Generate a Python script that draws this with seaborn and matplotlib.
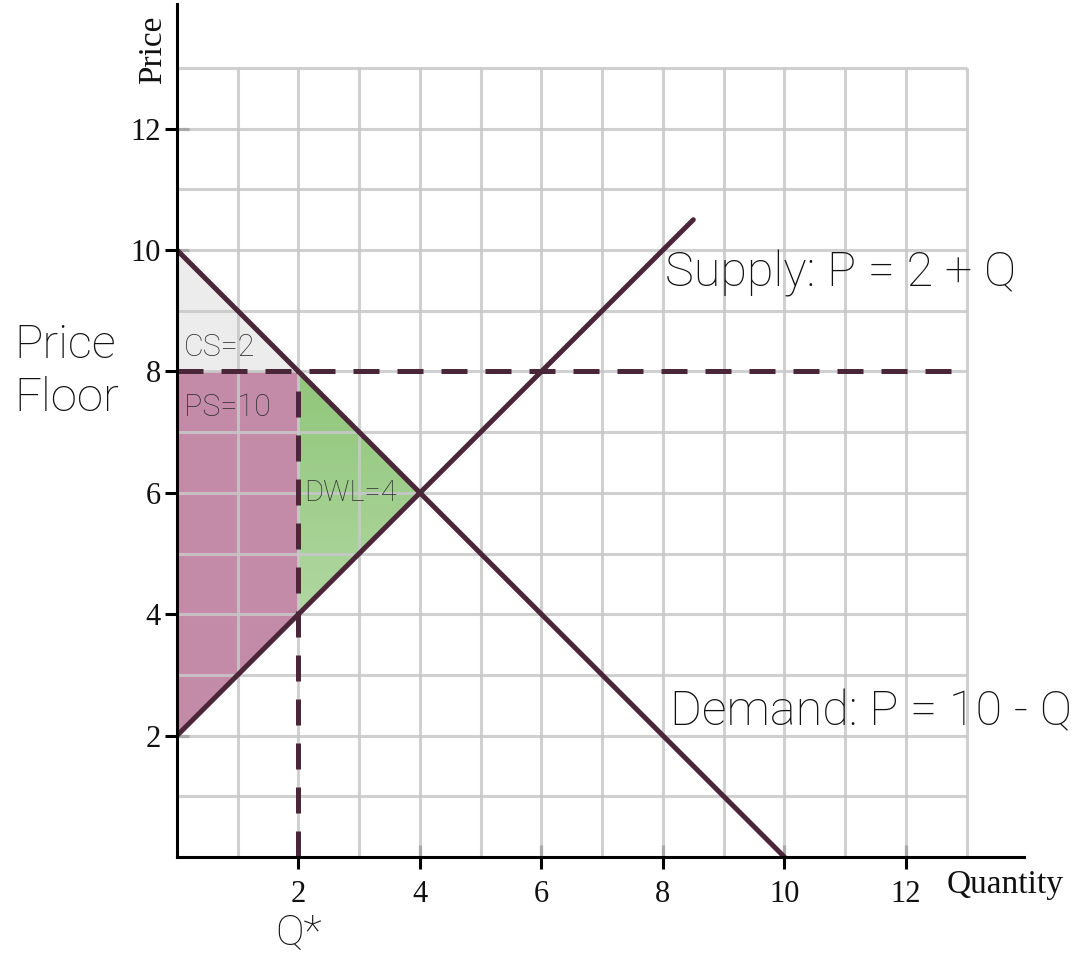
import numpy as np
import matplotlib
matplotlib.use("Agg")
import matplotlib.pyplot as plt
import seaborn as sns
from matplotlib.patches import Polygon

# curves
demand_q = [0, 10]
demand_p = [10, 0]
supply_q = [0, 8.5]
supply_p = [2, 10.5]

# price floor and quantity traded
floor_price = 8
floor_q = [0, 13]
q_star = 2

# surplus areas
cs_q = [0, 0, 2]
cs_p = [10, 8, 8]
ps_q = [0, 2, 2, 0]
ps_p = [8, 8, 4, 2]
dwl_q = [2, 4, 2]
dwl_p = [8, 6, 4]

ticks = [2, 4, 6, 8, 10, 12]
grid_vals = list(range(1, 14))

line_col = "#4a2639"
sans = "Roboto"
serif = "Liberation Serif"

sns.set_theme(style="white")

fig = plt.figure(figsize=(10.89, 9.55), dpi=100)
ax = fig.add_axes([0.1625, 0.1026, 0.7782, 0.893])
ax.set_xlim(0, 13.95)
ax.set_ylim(0, 14.05)

# filled areas
ax.fill(cs_q, cs_p, color="#ececec", lw=0, zorder=1)
ax.fill(ps_q, ps_p, color="#c48ba9", lw=0, zorder=1)

# green gradient for deadweight loss
tri = Polygon(np.column_stack([dwl_q, dwl_p]), closed=True, facecolor="none",
              edgecolor="none", transform=ax.transData)
ax.add_patch(tri)
grad = np.linspace(0, 1, 100).reshape(-1, 1)
cmap = matplotlib.colors.LinearSegmentedColormap.from_list("g", ["#90c67a", "#b0d7a0"])
im = ax.imshow(grad, extent=[min(dwl_q), max(dwl_q), min(dwl_p), max(dwl_p)],
               cmap=cmap, aspect="auto", origin="upper", zorder=1)
im.set_clip_path(tri)
ax.set_xlim(0, 13.95)
ax.set_ylim(0, 14.05)

# grid only up to 13
ax.vlines(grid_vals, 0, 13, color="#c8c8c8", lw=2.2, alpha=0.85, zorder=2)
ax.hlines(grid_vals, 0, 13, color="#c8c8c8", lw=2.2, alpha=0.85, zorder=2)

# supply and demand
sns.lineplot(x=demand_q, y=demand_p, ax=ax, color=line_col, lw=3.6, zorder=4)
sns.lineplot(x=supply_q, y=supply_p, ax=ax, color=line_col, lw=3.6, zorder=4)

# price floor and Q*
ax.plot(floor_q, [floor_price, floor_price], color=line_col, lw=3.6,
        dashes=(5.2, 3.6), zorder=3)
ax.plot([q_star, q_star], [0, floor_price], color=line_col, lw=3.6,
        dashes=(5.2, 3.6), zorder=3)

# axes styling
for s in ["top", "right"]:
    ax.spines[s].set_visible(False)
for s in ["left", "bottom"]:
    ax.spines[s].set_color("black")
    ax.spines[s].set_linewidth(2.2)
    ax.spines[s].set_zorder(5)
ax.set_xticks(ticks)
ax.set_yticks(ticks)
ax.tick_params(bottom=True, left=True, direction="inout", length=17, width=2.2,
               color="black", labelcolor="#111111", labelsize=22)
ax.tick_params(axis="x", pad=8)
ax.tick_params(axis="y", pad=3)
for lab in ax.get_xticklabels() + ax.get_yticklabels():
    lab.set_fontfamily(serif)
ax.grid(False)

# labels
txt = "#111111"
ax.text(-0.4, 13.3, "Price", rotation=90, ha="center", va="center", color=txt,
        fontfamily=serif, fontsize=24, clip_on=False)
ax.text(13.63, -0.46, "Quantity", ha="center", va="center", color=txt,
        fontfamily=serif, fontsize=24, clip_on=False)
ax.text(8.03, 9.62, "Supply: P = 2 + Q", ha="left", va="center", color=txt,
        fontfamily=sans, fontweight="light", fontsize=35, zorder=7)
ax.text(8.12, 2.39, "Demand: P = 10 - Q", ha="left", va="center", color=txt,
        fontfamily=sans, fontweight="light", fontsize=35, zorder=7)
ax.text(0.12, 8.39, "CS=2", ha="left", va="center", color="#333333",
        fontfamily=sans, fontweight="light", fontsize=22, zorder=7)
ax.text(0.12, 7.4, "PS=10", ha="left", va="center", color="#333333",
        fontfamily=sans, fontweight="light", fontsize=22, zorder=7)
ax.text(2.1, 6.0, "DWL=4", ha="left", va="center", color="#333333",
        fontfamily=sans, fontweight="light", fontsize=21, zorder=7)
ax.text(-2.67, 8.0, "Price\nFloor", ha="left", va="center", linespacing=1.25,
        color=txt, fontfamily=sans, fontweight="light", fontsize=34, clip_on=False)
ax.text(2.0, -1.45, "Q*", ha="center", va="baseline", color=txt,
        fontfamily=sans, fontweight="light", fontsize=31, clip_on=False)

fig.savefig("out.png", dpi=100)
